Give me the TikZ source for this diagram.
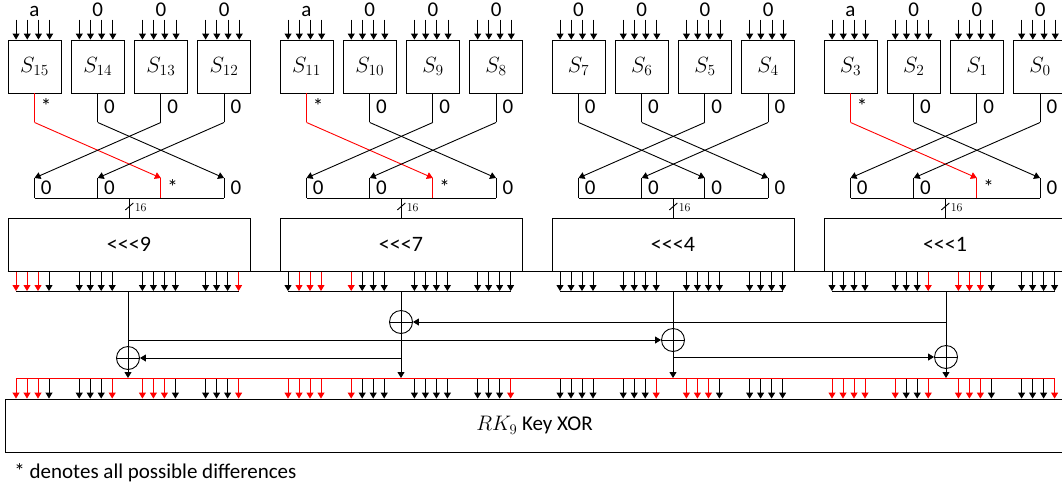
\RequirePackage{fix-cm}
\documentclass[tikz,border=0pt]{standalone}
\usepackage[no-math]{fontspec}
\setmainfont{Carlito}
\usetikzlibrary{arrows.meta,calc}
\begin{document}
\begin{tikzpicture}[x=1pt,y=-1pt,line width=0.9pt,
  sbox/.style={draw,minimum width=53pt,minimum height=53pt,inner sep=0pt,font=\fontsize{22}{25}\selectfont},
  rotbox/.style={draw,minimum width=242pt,minimum height=53pt,inner sep=0pt,font=\fontsize{22}{25}\selectfont},
  keybox/.style={draw,minimum width=1059pt,minimum height=53pt,inner sep=0pt,font=\fontsize{21}{24}\selectfont},
  lbl/.style={inner sep=0pt,font=\fontsize{21}{24}\selectfont},
  widthlbl/.style={inner sep=0pt,anchor=west,font=\fontsize{12}{14}\selectfont},
  arr/.style={-{Triangle[width=7pt,length=6pt]}},
  xorn/.style={draw,circle,minimum size=23pt,inner sep=0pt},
  c0/.style={black},
  c1/.style={red},
]
\useasboundingbox (0,0) rectangle (1062,488);
\clip (0,0) rectangle (1062,488);
\def\topcols{{1,1,1,0,0,0,0,0,0,0,0,0,0,0,0,1,
               0,1,1,1,1,0,0,0,0,0,0,0,0,0,0,0,
               0,0,0,0,0,0,0,0,0,0,0,0,0,0,0,0,
               0,0,0,0,0,0,0,1,1,1,1,0,0,0,0,0}}
\def\botcols{{1,1,1,0,0,0,0,1,1,1,1,0,0,0,0,1,
               1,1,1,1,1,0,0,0,0,0,0,0,0,0,0,1,
               0,0,0,0,0,0,0,1,1,1,1,0,0,0,0,0,
               1,1,1,1,1,0,0,1,1,1,1,0,0,0,0,1}}
% key box
\node[keybox] (K) at (534.5,425.5) {$RK_9$ Key XOR};
\node[lbl,anchor=base west] (note) at (14,478) {* denotes all possible differences};
% groups
\foreach \g/\ml/\rot in {0/a/9,1/a/7,2/0/4,3/a/1}{
  % cell coordinates
  \foreach \j in {0,...,3}{
    \pgfmathsetmacro\cx{8+272*\g+63.2*\j+26.5}
    \coordinate (C\g-\j) at (\cx,178);
    \coordinate (Cb\g-\j) at (\cx,198);
  }
  \foreach \j in {0,...,3}{
    \pgfmathtruncatemacro\n{15-4*\g-\j}
    \pgfmathsetmacro\cx{8+272*\g+63.2*\j+26.5}
    \pgfmathtruncatemacro\red{(\j==0)&&(\g!=2)}
    \pgfmathtruncatemacro\t{mod(\j+2,4)}
    \node[sbox] (S\n) at (\cx,66.5) {$S_{\n}$};
    \foreach \k in {0,...,3}{
      \draw[arr] ($(S\n.north west)+(8.5+11.2*\k,-20)$) -- ($(S\n.north west)+(8.5+11.2*\k,0)$);
    }
    \node[lbl,anchor=base] (in\n) at ($(S\n.north)+(0,-23.5)$) {\ifnum\j=0 \ml\else 0\fi};
    \draw[c\red] (S\n.south) -- ++(0,29) coordinate (o\n);
    \draw[arr,c\red] (o\n) -- (C\g-\t);
    \node[lbl,anchor=base west] (ol\n) at ($(S\n.south)+(6,20)$) {\ifnum\red=1 *\else 0\fi};
    \draw[c\red] (C\g-\t) -- (Cb\g-\t);
    \node[lbl,anchor=base west] (cl\g-\t) at ($(Cb\g-\t)+(6,-4)$) {\ifnum\red=1 *\else 0\fi};
  }
  \draw (Cb\g-0) -- (Cb\g-3);
  % rotation box
  \node[rotbox] (R\g) at (129+272*\g,244.5) {<{}<{}<\rot};
  \coordinate (M\g) at ($(Cb\g-0)!0.5!(Cb\g-3)$);
  \draw (M\g) -- (M\g |- R\g.north);
  \draw ($(M\g)+(-4,12)$) -- ($(M\g)+(4,5)$);
  \node[widthlbl] (w\g) at ($(M\g)+(5,10)$) {$16$};
  % output bits
  \foreach \i in {0,...,15}{
    \pgfmathsetmacro\bx{16+272*\g+63.2*floor(\i/4)+11*mod(\i,4)}
    \pgfmathtruncatemacro\c{\topcols[16*\g+\i]}
    \pgfmathtruncatemacro\d{\botcols[16*\g+\i]}
    \coordinate (tb\g-\i) at (\bx,291);
    \coordinate (kb\g-\i) at (\bx,378);
    \draw[arr,c\c] (tb\g-\i |- R\g.south) -- (tb\g-\i);
    \draw[arr,c\d] (kb\g-\i) -- (kb\g-\i |- K.north);
  }
  \draw (tb\g-0) -- (tb\g-15);
}
\draw (R0.south west) -- (R3.south east);
\draw[red] (kb0-0) -- (kb3-15);
% XOR network
\coordinate (G0) at (128,291);
\coordinate (G1) at (401,291);
\coordinate (G2) at (673,291);
\coordinate (G3) at (946,291);
\node[xorn] (X0) at (128,358) {};
\node[xorn] (X1) at (401,322) {};
\node[xorn] (X2) at (673,340) {};
\node[xorn] (X3) at (946,357) {};
\foreach \g in {0,...,3}{
  \draw (G\g) -- (X\g.north);
  \draw (X\g.north) -- (X\g.south) (X\g.west) -- (X\g.east);
  \draw[arr] (X\g.south) -- (X\g.south |- kb0-0);
}
\draw[arr] (G0 |- X2) -- (X2.west);
\draw[arr] (X1.south |- X0) -- (X0.east);
\draw[arr] (X2.south |- X3) -- (X3.west);
\draw[arr] (G3 |- X1) -- (X1.east);
\end{tikzpicture}
\end{document}
